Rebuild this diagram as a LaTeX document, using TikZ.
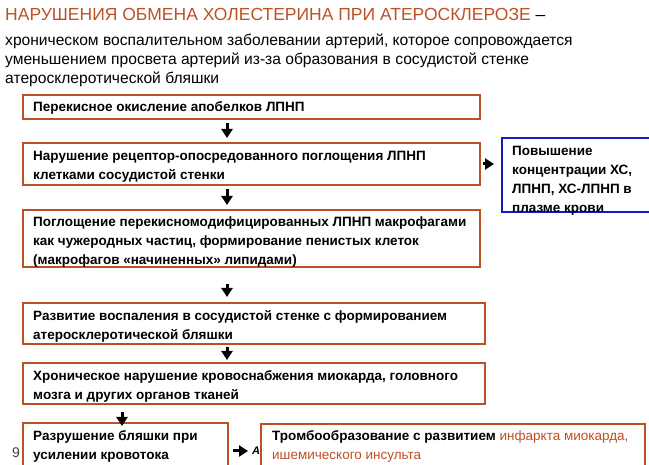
\documentclass[tikz,border=0pt]{standalone}
\usepackage{fontspec}
\setmainfont{Liberation Sans}
\usetikzlibrary{arrows.meta,positioning}
\definecolor{rust}{RGB}{190,80,38}
\definecolor{plasmablue}{RGB}{24,24,196}

\begin{document}
\begin{tikzpicture}[x=1pt, y=-1pt,
    obox/.style={draw=rust, line width=2.4pt, fill=white, inner sep=0pt, anchor=north west},
    bbox/.style={draw=plasmablue, line width=2pt, fill=white, inner sep=0pt, anchor=north west},
    btxt/.style={font=\fontsize{13.5}{19}\selectfont\bfseries, align=left, inner sep=0pt, anchor=base west},
    arr/.style={-{Triangle[width=11pt,length=9pt]}, line width=3pt}]

    % Frame
    \useasboundingbox (0,0) rectangle (649,465);
    \clip (0,0) rectangle (649,465);

    % Heading (base of a multi-line node = its last line)
    \node[anchor=base west, inner sep=0pt, font=\fontsize{17.5}{21}\selectfont] (title) at (5,21)
        {\textcolor{rust}{НАРУШЕНИЯ ОБМЕНА ХОЛЕСТЕРИНА ПРИ АТЕРОСКЛЕРОЗЕ} –};
    \node[anchor=base west, inner sep=0pt, align=left, font=\fontsize{15.6}{19}\selectfont] (intro) at (5,84)
        {хроническом воспалительном заболевании артерий, которое сопровождается\\
         уменьшением просвета артерий из-за образования в сосудистой стенке\\
         атеросклеротической бляшки};

    % Chain of boxes
    \node[obox, minimum width=457pt, minimum height=24pt] (b1) at (22,94) {};
    \node[obox, minimum width=457pt, minimum height=42pt] (b2) at (22,142) {};
    \node[obox, minimum width=457pt, minimum height=57pt] (b3) at (22,209) {};
    \node[obox, minimum width=462pt, minimum height=41pt] (b4) at (22,302) {};
    \node[obox, minimum width=462pt, minimum height=41pt] (b5) at (22,362) {};
    \node[obox, minimum width=205pt, minimum height=60pt] (b6) at (22,422) {};
    \node[bbox, minimum width=148pt, minimum height=74pt] (bx) at (501,137) {};

    \node[btxt] (t1) at ([shift={(11,18)}]b1.north west) {Перекисное окисление апобелков ЛПНП};
    \node[btxt] (t2) at ([shift={(11,38)}]b2.north west)
        {Нарушение рецептор-опосредованного поглощения ЛПНП\\клетками сосудистой стенки};
    \node[btxt] (t3) at ([shift={(11,56)}]b3.north west)
        {Поглощение перекисномодифицированных ЛПНП макрофагами\\как чужеродных частиц, формирование пенистых клеток\\(макрофагов «начиненных» липидами)};
    \node[btxt] (t4) at ([shift={(11,38)}]b4.north west)
        {Развитие воспаления в сосудистой стенке с формированием\\атеросклеротической бляшки};
    \node[btxt] (t5) at ([shift={(11,38)}]b5.north west)
        {Хроническое нарушение кровоснабжения миокарда, головного\\мозга и других органов тканей};
    \node[btxt] (t6) at ([shift={(11,38)}]b6.north west)
        {Разрушение бляшки при\\усилении кровотока};
    \node[btxt] (tx) at ([shift={(11,76)}]bx.north west)
        {Повышение\\концентрации ХС,\\ЛПНП, ХС-ЛПНП в\\плазме крови};

    % Slide number and hidden note
    \node[anchor=base west, inner sep=0pt, font=\fontsize{14}{14}\selectfont, text=darkgray] (pg) at (12,458) {9};
    \node[anchor=base west, inner sep=0pt, font=\fontsize{11}{11}\selectfont\bfseries\itshape] (note) at (252,455) {А};

    \node[obox, minimum width=384pt, minimum height=60pt] (b7) at (260,423) {};
    \node[btxt] (t7) at ([shift={(12,37)}]b7.north west)
        {Тромбообразование с развитием {\mdseries\color{rust}инфаркта миокарда,}\\{\mdseries\color{rust}ишемического инсульта}};

    % Arrows
    \coordinate (ax) at (227,0);
    \coordinate (ax2) at (122,0);
    \coordinate (ay) at (0,164);
    \coordinate (ay2) at (0,451);
    \foreach \a/\b/\s/\e in {b1/b2/3/4, b2/b3/3/4, b3/b4/16/5, b4/b5/2/2} {
        \draw[arr, shorten <=\s pt, shorten >=\e pt] (\a.south -| ax) -- (\b.north -| ax);
    }
    \draw[arr, shorten <=7pt, shorten >=-4pt] (b5.south -| ax2) -- (b6.north -| ax2);
    \draw[arr, shorten <=1.5pt, shorten >=7pt] (b2.east |- ay) -- (bx.west |- ay);
    \draw[arr, shorten <=4pt, shorten >=12pt] (b6.east |- ay2) -- (b7.west |- ay2);

\end{tikzpicture}
\end{document}
